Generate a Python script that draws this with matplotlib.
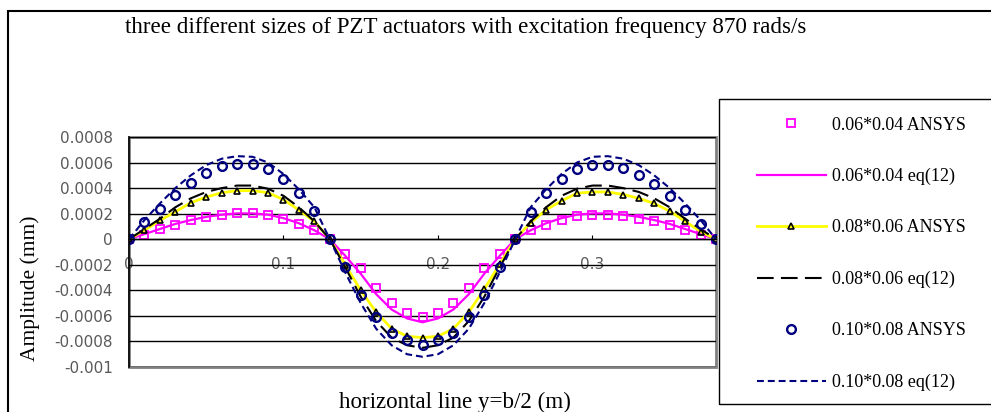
import matplotlib
matplotlib.use("Agg")
import matplotlib.pyplot as plt
import numpy as np
from matplotlib.patches import Rectangle

plt.rcParams['font.family'] = ['Liberation Serif', 'DejaVu Serif']

# position along the horizontal line y=b/2 (m)
x = [0.00, 0.01, 0.02, 0.03, 0.04, 0.05, 0.06, 0.07, 0.08, 0.09,
     0.10, 0.11, 0.12, 0.13, 0.14, 0.15, 0.16, 0.17, 0.18, 0.19,
     0.20, 0.21, 0.22, 0.23, 0.24, 0.25, 0.26, 0.27, 0.28, 0.29,
     0.30, 0.31, 0.32, 0.33, 0.34, 0.35, 0.36, 0.37, 0.38]

# amplitudes in units of 1e-4 mm
ansys_small = [0, 0.35, 0.78, 1.15, 1.47, 1.72, 1.90, 2.03, 2.03, 1.90,
               1.60, 1.22, 0.76, 0, -1.12, -2.25, -3.78, -5.00, -5.77, -6.05,
               -5.77, -5.00, -3.82, -2.25, -1.12, 0, 0.75, 1.14, 1.53, 1.82,
               1.92, 1.92, 1.82, 1.61, 1.40, 1.09, 0.75, 0.36, 0]
eq_small = [0, 0.40, 0.80, 1.20, 1.50, 1.75, 1.92, 2.02, 2.02, 1.92,
            1.65, 1.25, 0.70, 0, -1.30, -2.70, -4.30, -5.50, -6.20, -6.50,
            -6.20, -5.50, -4.30, -2.70, -1.30, 0, 0.70, 1.25, 1.65, 1.92,
            2.02, 2.02, 1.92, 1.75, 1.50, 1.20, 0.80, 0.40, 0]
ansys_mid = [0, 0.70, 1.47, 2.15, 2.86, 3.30, 3.64, 3.80, 3.80, 3.64,
             3.10, 2.28, 1.40, 0, -2.00, -4.00, -5.70, -7.00, -7.60, -7.70,
             -7.60, -7.00, -5.70, -3.90, -1.95, 0, 1.30, 2.30, 3.00, 3.60,
             3.70, 3.70, 3.50, 3.20, 2.80, 2.20, 1.40, 0.60, 0]
eq_mid = [0, 0.80, 1.60, 2.50, 3.20, 3.70, 4.00, 4.20, 4.20, 3.95,
          3.40, 2.50, 1.40, 0, -2.20, -4.50, -6.40, -7.70, -8.30, -8.50,
          -8.30, -7.70, -6.40, -4.50, -2.20, 0, 1.40, 2.50, 3.40, 3.95,
          4.20, 4.20, 4.00, 3.70, 3.20, 2.50, 1.60, 0.80, 0]
ansys_big = [0, 1.34, 2.39, 3.50, 4.40, 5.20, 5.70, 5.90, 5.90, 5.50,
             4.70, 3.60, 2.20, 0, -2.20, -4.40, -6.10, -7.30, -7.90, -8.30,
             -7.90, -7.30, -6.10, -4.40, -2.20, 0, 2.10, 3.60, 4.70, 5.50,
             5.80, 5.80, 5.60, 5.00, 4.30, 3.40, 2.30, 1.20, 0]
eq_big = [0, 1.50, 2.80, 4.00, 5.00, 5.80, 6.30, 6.50, 6.45, 6.00,
          5.10, 3.90, 2.50, 0, -2.60, -5.00, -7.00, -8.30, -9.00, -9.20,
          -9.00, -8.30, -7.00, -5.00, -2.60, 0, 2.50, 3.90, 5.10, 6.00,
          6.45, 6.50, 6.30, 5.80, 5.00, 4.00, 2.80, 1.50, 0]

labels = ["0.06*0.04 ANSYS", "0.06*0.04 eq(12)",
          "0.08*0.06 ANSYS", "0.08*0.06 eq(12)",
          "0.10*0.08 ANSYS", "0.10*0.08 eq(12)"]

yticks = [0.0008, 0.0006, 0.0004, 0.0002, 0, -0.0002, -0.0004, -0.0006, -0.0008, -0.001]
ytick_labels = ["0.0008", "0.0006", "0.0004", "0.0002", "0", "-0.0002",
                "-0.0004", "-0.0006", "-0.0008", "-0.001"]
xticks = [0, 0.1, 0.2, 0.3]
xtick_labels = ["0", "0.1", "0.2", "0.3"]

sc = 1e-4

fig = plt.figure(figsize=(9.91, 4.12), dpi=100)
ax = fig.add_axes([129/991, 1-367/412, 587/991, 230/412])

ax.plot(x, np.array(ansys_small)*sc, ls='none', marker='s', ms=6.3, mfc='none',
        mec='#FF00FF', mew=1.3, label=labels[0])
ax.plot(x, np.array(eq_small)*sc, color='#FF00FF', lw=1.6, label=labels[1])
ax.plot(x, np.array(ansys_mid)*sc, color='#FFFF00', lw=2.0, marker='^', ms=5,
        mfc='none', mec='black', mew=1.2, label=labels[2])
ax.plot(x, np.array(eq_mid)*sc, color='black', lw=1.5, ls=(0, (8, 3.5)), label=labels[3])
ax.plot(x, np.array(ansys_big)*sc, ls='none', marker='o', ms=6.3, mfc='none',
        mec='#000080', mew=1.7, label=labels[4])
ax.plot(x, np.array(eq_big)*sc, color='#000080', lw=1.5, ls=(0, (3.3, 1.9)), label=labels[5])

ax.set_xlim(0, 0.38)
ax.set_ylim(-0.001, 0.0008)
ax.set_yticks(yticks)
ax.set_yticklabels(ytick_labels)
ax.set_xticks(xticks)
ax.set_xticklabels(xtick_labels)
ax.yaxis.grid(True, color='black', lw=1)
ax.set_axisbelow(True)

for s in ['top', 'right']:
    ax.spines[s].set_visible(False)
ax.spines['left'].set_color('black')
ax.spines['left'].set_linewidth(1.2)
ax.spines['bottom'].set_position(('data', 0))
ax.spines['bottom'].set_color('black')
ax.spines['bottom'].set_linewidth(1)
ax.add_patch(Rectangle((0, 0), 1, 1, transform=ax.transAxes, fill=False,
                       edgecolor='#808080', lw=2, clip_on=False, zorder=0.5))

ax.tick_params(axis='y', length=0, pad=11.5, labelsize=11, labelcolor='#595959')
ax.tick_params(axis='x', direction='in', length=3, pad=13, labelsize=11,
               labelcolor='#595959', color='black')
for t in ax.get_xticklabels() + ax.get_yticklabels():
    t.set_fontfamily('DejaVu Sans')

fig.text(466/991, 1-28/412, "three different sizes of PZT actuators with excitation frequency 870 rads/s",
         ha='center', va='center', fontsize=16.6)
fig.text(455/991, 1-408/412, "horizontal line y=b/2 (m)", ha='center', va='baseline', fontsize=16.6)
fig.text(30/991, 1-288/412, "Amplitude (mm)", ha='center', va='center', rotation=90, fontsize=15.5)

# chart area border and legend box
fig.add_artist(Rectangle((8/991, -0.1), 1.1, 0.1 + (1-11/412), transform=fig.transFigure,
                         fill=False, edgecolor='black', lw=1.5))
fig.add_artist(Rectangle((719/991, 1-404/412), 0.3, 305/412, transform=fig.transFigure,
                         fill=False, edgecolor='black', lw=1))

fig.legend(loc='upper left', bbox_to_anchor=(757/991, 1-116.5/412), frameon=False,
           fontsize=13, borderpad=0, borderaxespad=0, labelspacing=1.9,
           handlelength=3.82, handletextpad=0.33)

fig.savefig("out.png", dpi=100)
